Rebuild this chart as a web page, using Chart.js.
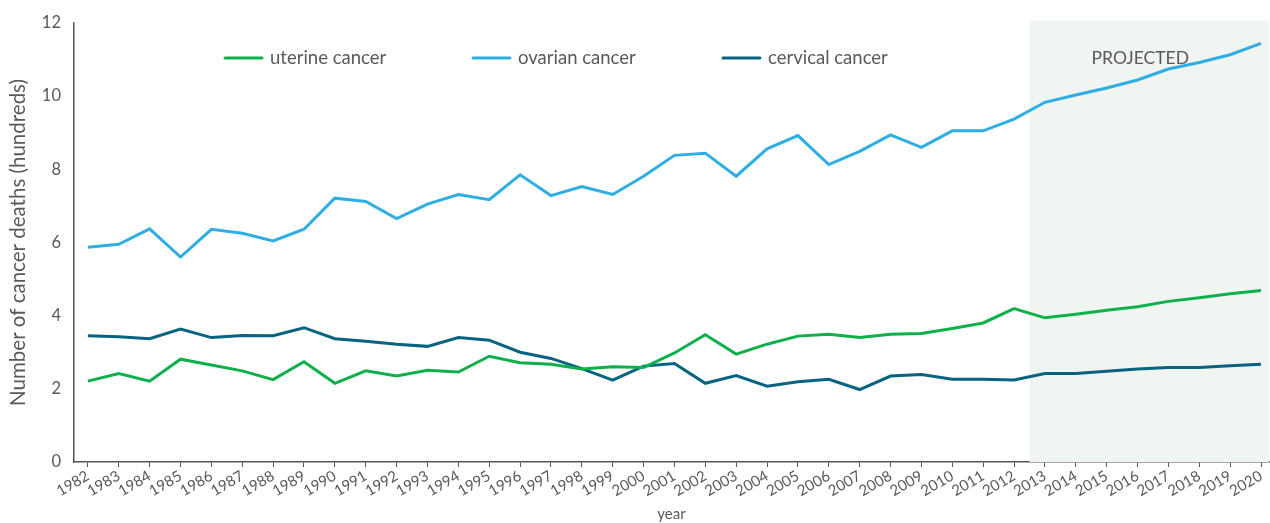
<!DOCTYPE html>
<html lang="en">
<head>
    <meta charset="UTF-8">
    <title>Cancer deaths by year</title>
    <script src="https://cdn.jsdelivr.net/npm/chart.js"></script>
    <style>
        html, body { margin: 0; padding: 0; background: #fff; }
        #wrap { width: 1270px; height: 523px; position: relative; }
    </style>
</head>
<body>
    <div id="wrap"><canvas id="myChart"></canvas></div>
    <script>
        // data (hundreds of deaths)
        const years = [];
        for (let y = 1982; y <= 2020; y++) years.push(y);

        const uterine = [2.21, 2.42, 2.21, 2.81, 2.65, 2.49, 2.25, 2.74, 2.15, 2.49,
            2.35, 2.51, 2.46, 2.89, 2.71, 2.67, 2.54, 2.60, 2.58, 2.98,
            3.48, 2.95, 3.22, 3.44, 3.49, 3.40, 3.49, 3.51, 3.65, 3.80,
            4.19, 3.94, 4.04, 4.15, 4.24, 4.39, 4.49, 4.60, 4.69];
        const ovarian = [5.87, 5.95, 6.37, 5.60, 6.36, 6.25, 6.04, 6.36, 7.21, 7.12,
            6.65, 7.05, 7.31, 7.17, 7.85, 7.28, 7.53, 7.31, 7.81, 8.38,
            8.44, 7.81, 8.56, 8.92, 8.13, 8.49, 8.94, 8.60, 9.05, 9.05,
            9.37, 9.83, 10.03, 10.22, 10.44, 10.74, 10.92, 11.13, 11.44];
        const cervical = [3.45, 3.42, 3.37, 3.63, 3.40, 3.46, 3.45, 3.67, 3.37, 3.30,
            3.22, 3.16, 3.40, 3.33, 3.00, 2.83, 2.55, 2.24, 2.62, 2.69,
            2.15, 2.36, 2.07, 2.19, 2.26, 1.98, 2.35, 2.39, 2.26, 2.26,
            2.24, 2.42, 2.42, 2.48, 2.54, 2.58, 2.58, 2.63, 2.67];
        const yTicks = [0, 2, 4, 6, 8, 10, 12];
        const projectedFrom = 2012.5;

        const textColor = '#595959';
        const fontFamily = 'Lato, "Open Sans", sans-serif';

        function toPoints(arr) {
            return arr.map((v, i) => ({ x: years[i], y: v }));
        }

        // light shaded box behind the projected years
        const projectedBox = {
            id: 'projectedBox',
            beforeDatasetsDraw(chart) {
                const { ctx, chartArea, scales } = chart;
                const x0 = scales.x.getPixelForValue(projectedFrom);
                ctx.save();
                ctx.fillStyle = '#f0f5f1';
                ctx.fillRect(x0, chartArea.top - 2, chartArea.right - x0, chartArea.bottom - chartArea.top + 2);
                ctx.fillStyle = textColor;
                ctx.font = '17.5px ' + fontFamily;
                ctx.textAlign = 'center';
                ctx.textBaseline = 'middle';
                ctx.fillText('PROJECTED', (x0 + chartArea.right) / 2 - 9, 58);
                ctx.restore();
            }
        };

        // legend drawn inside the plot area
        const innerLegend = {
            id: 'innerLegend',
            afterDatasetsDraw(chart) {
                const { ctx } = chart;
                const xs = [225, 473, 723];
                ctx.save();
                ctx.font = '18.5px ' + fontFamily;
                ctx.textBaseline = 'middle';
                chart.data.datasets.forEach((ds, i) => {
                    ctx.strokeStyle = ds.borderColor;
                    ctx.lineWidth = 3;
                    ctx.lineCap = 'round';
                    ctx.beginPath();
                    ctx.moveTo(xs[i], 58);
                    ctx.lineTo(xs[i] + 37, 58);
                    ctx.stroke();
                    ctx.fillStyle = textColor;
                    ctx.fillText(ds.label, xs[i] + 45, 58);
                });
                ctx.restore();
            }
        };

        const ctx = document.getElementById('myChart').getContext('2d');
        const chart = new Chart(ctx, {
            type: 'line',
            data: {
                datasets: [
                    { label: 'uterine cancer', data: toPoints(uterine), borderColor: '#0db04b' },
                    { label: 'ovarian cancer', data: toPoints(ovarian), borderColor: '#2eaee4' },
                    { label: 'cervical cancer', data: toPoints(cervical), borderColor: '#07637f' }
                ]
            },
            options: {
                responsive: true,
                maintainAspectRatio: false,
                animation: false,
                layout: { padding: { top: 22, right: 0, left: 0, bottom: 0 } },
                elements: {
                    line: { borderWidth: 3, tension: 0 },
                    point: { radius: 0 }
                },
                plugins: {
                    legend: { display: false },
                    tooltip: { enabled: false }
                },
                scales: {
                    x: {
                        type: 'linear',
                        min: 1981.55,
                        max: 2020.26,
                        afterBuildTicks: (scale) => {
                            scale.ticks = years.map(v => ({ value: v }));
                        },
                        afterFit: (scale) => { scale.height = 61; },
                        grid: { display: true, drawOnChartArea: false, tickLength: 5, color: '#555' },
                        border: { display: true, color: '#555', width: 1.5 },
                        ticks: {
                            autoSkip: false,
                            maxRotation: 30,
                            minRotation: 30,
                            padding: 0,
                            color: textColor,
                            font: { family: fontFamily, size: 15 },
                            callback: (v) => String(v)
                        },
                        title: {
                            display: true,
                            text: 'year',
                            color: textColor,
                            padding: { top: 0, bottom: 0 },
                            font: { family: fontFamily, size: 15 }
                        }
                    },
                    y: {
                        min: 0,
                        max: 12,
                        afterBuildTicks: (scale) => {
                            scale.ticks = yTicks.map(v => ({ value: v }));
                        },
                        afterFit: (scale) => { scale.width = 74; },
                        grid: { display: false, drawTicks: false },
                        border: { display: true, color: '#555', width: 1.5 },
                        ticks: {
                            padding: 13,
                            color: textColor,
                            font: { family: fontFamily, size: 16.5 }
                        },
                        title: {
                            display: true,
                            text: 'Number of cancer deaths (hundreds)',
                            color: textColor,
                            padding: { top: 6, bottom: 0 },
                            font: { family: fontFamily, size: 20.5 }
                        }
                    }
                }
            },
            plugins: [projectedBox, innerLegend]
        });
    </script>
</body>
</html>
